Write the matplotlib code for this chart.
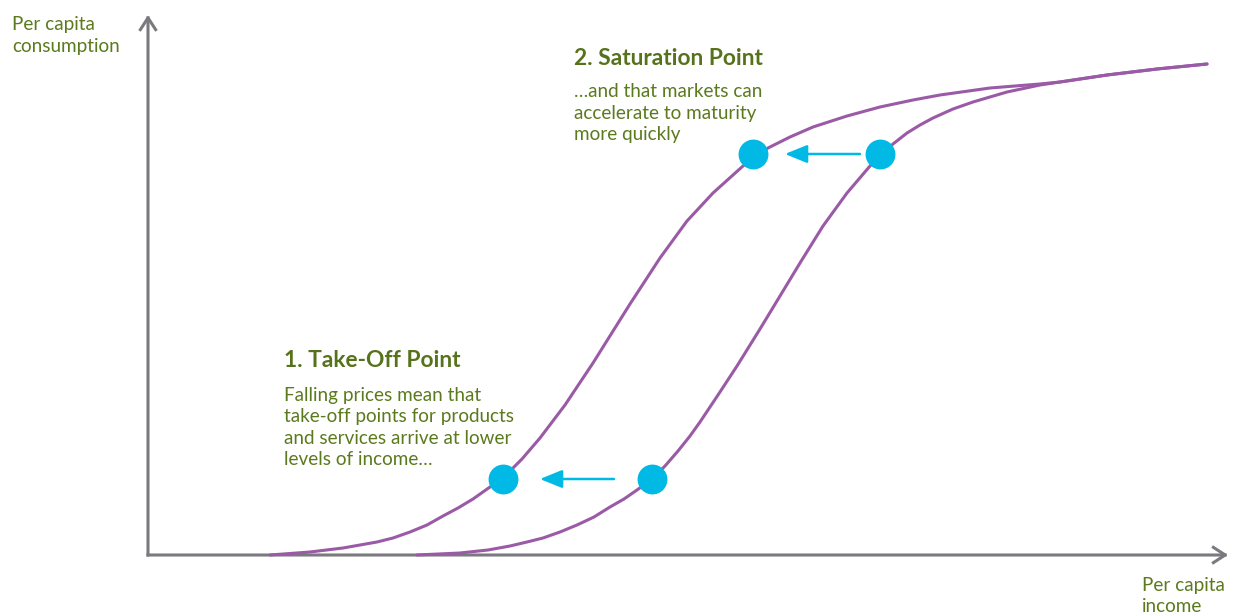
import matplotlib
matplotlib.use("Agg")
import matplotlib.pyplot as plt
from matplotlib.patches import FancyArrowPatch

# Per capita income (x) vs per capita consumption (y), arbitrary units
income_before = [269, 312, 340, 362, 379, 395, 412, 429, 446, 462, 476, 489,
                 504, 517, 530, 542, 552, 570, 589, 612, 632, 652, 675, 699,
                 722, 732, 745, 759, 772, 785, 805, 825, 859, 892, 912, 959,
                 1009, 1059]
consumption_before = [0, 2, 5, 9, 13, 17, 23, 30, 38, 48, 56, 65,
                      76, 89, 104, 119, 133, 160, 189, 226, 259, 292, 329, 362,
                      389, 399, 411, 422, 430, 437, 446, 453, 463, 470, 473, 480,
                      486, 491]

income_after = [122, 162, 195, 212, 229, 245, 262, 279, 295, 310, 325, 342,
                355, 374, 392, 417, 445, 482, 512, 539, 565, 595, 620, 642,
                665, 699, 732, 765, 792, 842, 892, 912, 959, 1009, 1059]
consumption_after = [0, 3, 7, 10, 13, 17, 23, 30, 39, 47, 56, 68,
                     77, 96, 117, 150, 192, 251, 297, 334, 362, 389, 407, 418,
                     428, 439, 448, 455, 460, 467, 471, 473, 480, 486, 491]

# Take-off and saturation points on each curve
takeoff = {"before": (504, 76), "after": (355, 76)}
saturation = {"before": (732, 401), "after": (605, 401)}

PURPLE = "#9a5aa6"
CYAN = "#00b9e4"
GRAY = "#7a7a7e"
GREEN = "#5b7a1d"
HEAD_GREEN = "#56721a"
FONT = "Lato"
BODY = 13.6
HEAD = 16.4

fig = plt.figure(figsize=(12.34, 6.16), dpi=100)
ax = fig.add_axes([0, 0, 1, 1])
ax.set_xlim(-148, 1086)
ax.set_ylim(-61, 555)
ax.axis("off")

# Axes drawn as open-headed arrows
axis_style = dict(arrowstyle="->,head_length=0.85,head_width=0.55",
                  color=GRAY, lw=2.2, shrinkA=0, shrinkB=0,
                  mutation_scale=10, capstyle="projecting")
ax.add_patch(FancyArrowPatch((0, 0), (1080, 0), **axis_style))
ax.add_patch(FancyArrowPatch((0, 0), (0, 540), **axis_style))

# S-curves
for xs, ys in ((income_before, consumption_before),
               (income_after, consumption_after)):
    ax.plot(xs, ys, color=PURPLE, lw=2.2, solid_capstyle="round",
            solid_joinstyle="round", antialiased=True, zorder=2)

# Shift arrows and points (gaps in axis units between dot and arrow ends)
for pts, tail_gap, tip_gap in ((takeoff, 38, 37), (saturation, 20, 32)):
    (xb, yb), (xa, ya) = pts["before"], pts["after"]
    ax.plot([xb, xa], [yb, ya], linestyle="none", marker="o", markersize=21.5,
            markerfacecolor=CYAN, markeredgewidth=0, zorder=4)
    ax.add_patch(FancyArrowPatch((xb - tail_gap, yb), (xa + tip_gap, ya),
                                 arrowstyle="-|>,head_length=1.35,head_width=0.55",
                                 mutation_scale=10, color=CYAN, lw=1.8,
                                 shrinkA=0, shrinkB=0, zorder=3))

# Axis titles (positioned by the baseline of their last line)
ax.text(-136, 503, "Per capita\nconsumption", fontsize=BODY, color=GREEN,
        family=FONT, va="baseline", ha="left", linespacing=1.38)
ax.text(994, -57, "Per capita\nincome", fontsize=BODY, color=GREEN,
        family=FONT, va="baseline", ha="left", linespacing=1.3)

# Annotations
ax.text(426, 490, "2. Saturation Point", fontsize=HEAD, fontweight="bold",
        color=HEAD_GREEN, family=FONT, va="baseline", ha="left")
ax.text(426, 415, "\u2026and that markets can\naccelerate to maturity\nmore quickly",
        fontsize=BODY, color=GREEN, family=FONT, va="baseline", ha="left",
        linespacing=1.32)
ax.text(136, 188, "1. Take-Off Point", fontsize=HEAD, fontweight="bold",
        color=HEAD_GREEN, family=FONT, va="baseline", ha="left")
ax.text(136, 90, "Falling prices mean that\ntake-off points for products\n"
        "and services arrive at lower\nlevels of income\u2026",
        fontsize=BODY, color=GREEN, family=FONT, va="baseline", ha="left",
        linespacing=1.32)

fig.savefig("out.png", dpi=100)
